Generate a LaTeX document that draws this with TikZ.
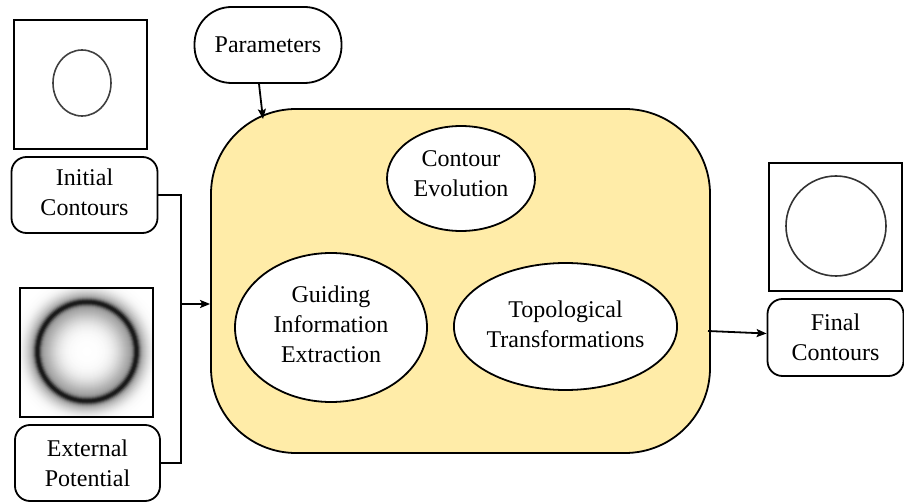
\documentclass[tikz,border=0pt]{standalone}
\usepackage{fontspec}
\setmainfont{Liberation Serif}
\usetikzlibrary{arrows.meta,shapes.geometric}
\definecolor{stagefill}{RGB}{255,236,168}
\begin{document}
\begin{tikzpicture}[x=1pt,y=-1pt,
  txt/.style={font=\rmfamily\fontsize{24}{30}\selectfont, align=center, inner sep=0pt},
  iobox/.style={txt, draw, line width=1.8pt, rounded corners=15pt, fill=white},
  proc/.style={txt, draw, line width=1.8pt, ellipse, fill=white},
  frame/.style={draw, line width=1.8pt},
  link/.style={line width=1.8pt},
  arr/.style={link, -{Stealth[length=10pt,width=8pt,inset=2pt]}}]
\useasboundingbox (0,0) rectangle (904,502);

% central processing stage
\node[draw, line width=1.8pt, fill=stagefill, rounded corners=85pt,
      minimum width=499pt, minimum height=344pt] (stage) at (460.5,281) {};
\node[proc, text depth=10pt, minimum width=148pt, minimum height=105pt] (ce) at (461,178.5) {Contour\\Evolution};
\node[proc, text depth=6pt, minimum width=192pt, minimum height=149pt] (gie) at (331,327.5) {Guiding\\Information\\Extraction};
\node[proc, text depth=4pt, minimum width=205pt, minimum height=127pt] (tt) at (565.5,326.5) {Topological\\Transformations};

% parameters
\node[iobox, rounded corners=37pt, minimum width=147pt, minimum height=76pt] (par) at (268,45) {Parameters};

% inputs and output
\node[iobox, text depth=6pt, minimum width=146pt, minimum height=76pt] (ic) at (84.5,195) {Initial\\Contours};
\node[iobox, text depth=-6pt, minimum width=145pt, minimum height=76pt] (ep) at (87.5,463) {External\\Potential};
\node[iobox, minimum width=136pt, minimum height=77pt] (fc) at (835.5,337.5) {Final\\Contours};

% initial contour image
\draw[frame] (14,20) rectangle (147,149);
\draw[black!75, line width=1.6pt] (82,83) ellipse[x radius=29, y radius=33];

% external potential image: blurred dark ring, built from nested discs
\begin{scope}
  \clip (20,288) rectangle (153,417);
  \foreach \r in {100,99,...,1} {
    \pgfmathsetmacro\q{(\r-50)^2}
    \pgfmathsetmacro\p{min(90, 52*exp(-\q/12) + (\r<50 ? 40*exp(-\q/350) : 40*exp(-\q/130)))}
    \fill[black!\p] (87,351.5) circle[radius=\r];
  }
\end{scope}
\draw[frame] (20,288) rectangle (153,417);

% final contour image
\draw[frame] (769,163) rectangle (902,291);
\draw[black!80, line width=1.6pt] (836,226) circle[radius=50];

% connectors
\coordinate (jn) at (181,304);
\coordinate (pin) at (263,119);
\coordinate (out) at (708,331);
\draw[link] (ic.east) -| (jn);
\draw[link] (ep.east) -| (jn);
\draw[arr] (jn) -- (stage.west |- jn);
\draw[arr] ([xshift=-9pt]par.south) -- (pin);
\draw[arr] (out) -- ([yshift=4pt]fc.west);
\end{tikzpicture}
\end{document}
